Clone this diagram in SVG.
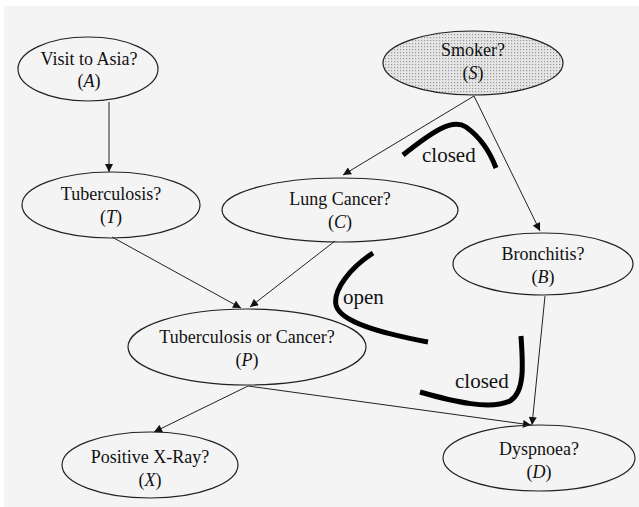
<svg xmlns="http://www.w3.org/2000/svg" width="639" height="507" viewBox="0 0 639 507">
<defs>
<pattern id="dots" width="3" height="3" patternUnits="userSpaceOnUse">
<rect width="3" height="3" fill="#e6e6e6"/>
<rect x="1" y="1" width="1.2" height="1.2" fill="#9a9a9a"/>
</pattern>
<marker id="arr" viewBox="0 0 10 10" refX="10" refY="5" markerWidth="9" markerHeight="8" markerUnits="userSpaceOnUse" orient="auto">
<path d="M0,0 L10,5 L0,10 z" fill="#111"/>
</marker>
<style>
.node{fill:none;stroke:#222;stroke-width:1.2}
.lbl{font-family:'Liberation Serif','DejaVu Serif',serif;font-size:18px;fill:#111;text-anchor:middle}
.it{font-style:italic}
.edge{stroke:#222;stroke-width:1;fill:none;marker-end:url(#arr)}
.thick{stroke:#000;stroke-width:5;fill:none;stroke-linecap:butt}
.ann{font-family:'Liberation Serif','DejaVu Serif',serif;font-size:21px;fill:#111}
</style>
</defs>
<rect width="639" height="507" fill="#ffffff"/>
<rect x="4" y="6" width="635" height="501" fill="#f4f4f4"/>

<g id="connectors">
<line class="edge" x1="109" y1="102" x2="109" y2="172"/>
<line class="edge" x1="474" y1="96" x2="343" y2="175"/>
<line class="edge" x1="474" y1="96" x2="540" y2="231"/>
<line class="edge" x1="112" y1="237" x2="241" y2="308"/>
<line class="edge" x1="335" y1="241" x2="250" y2="307"/>
<line class="edge" x1="248" y1="386" x2="154" y2="432"/>
<line class="edge" x1="248" y1="386" x2="531" y2="425"/>
<line class="edge" x1="545" y1="296" x2="532" y2="425"/>
</g>

<g id="annotations">
<path class="thick" d="M403,155 C432,132 452,118 466,127 C480,137 490,152 496,168"/>
<text class="ann" x="422" y="162" font-family="Liberation Serif, serif">closed</text>
<path class="thick" d="M373,253 C350,268 333,290 336,305 C340,322 380,333 428,342"/>
<text class="ann" x="343" y="304" font-family="Liberation Serif, serif">open</text>
<path class="thick" d="M521,336 C523,365 525,392 510,401 C490,410 455,402 420,392"/>
<text class="ann" x="455" y="388" font-family="Liberation Serif, serif">closed</text>
</g>

<g id="A">
<ellipse class="node" cx="88" cy="69" rx="70" ry="32"/>
<text class="lbl" x="89" y="65">Visit to Asia?</text>
<text class="lbl" x="89" y="87">(<tspan class="it">A</tspan>)</text>
</g>
<g id="S">
<ellipse cx="473" cy="63" rx="90" ry="32" fill="url(#dots)" stroke="#222" stroke-width="1.2"/>
<text class="lbl" x="473" y="56">Smoker?</text>
<text class="lbl" x="473" y="79">(<tspan class="it">S</tspan>)</text>
</g>
<g id="T">
<ellipse class="node" cx="111" cy="205" rx="89" ry="33"/>
<text class="lbl" x="111" y="200">Tuberculosis?</text>
<text class="lbl" x="111" y="223">(<tspan class="it">T</tspan>)</text>
</g>
<g id="C">
<ellipse class="node" cx="340" cy="210" rx="118" ry="32"/>
<text class="lbl" x="340" y="205">Lung Cancer?</text>
<text class="lbl" x="340" y="228">(<tspan class="it">C</tspan>)</text>
</g>
<g id="B">
<ellipse class="node" cx="543" cy="264" rx="90" ry="31"/>
<text class="lbl" x="543" y="260">Bronchitis?</text>
<text class="lbl" x="543" y="283">(<tspan class="it">B</tspan>)</text>
</g>
<g id="P">
<ellipse class="node" cx="247" cy="347" rx="119" ry="38"/>
<text class="lbl" x="247" y="343">Tuberculosis or Cancer?</text>
<text class="lbl" x="247" y="366">(<tspan class="it">P</tspan>)</text>
</g>
<g id="X">
<ellipse class="node" cx="150" cy="465" rx="88" ry="33"/>
<text class="lbl" x="150" y="463">Positive X-Ray?</text>
<text class="lbl" x="150" y="486">(<tspan class="it">X</tspan>)</text>
</g>
<g id="D">
<ellipse class="node" cx="539" cy="458" rx="96" ry="33"/>
<text class="lbl" x="539" y="455">Dyspnoea?</text>
<text class="lbl" x="539" y="478">(<tspan class="it">D</tspan>)</text>
</g>
</svg>
